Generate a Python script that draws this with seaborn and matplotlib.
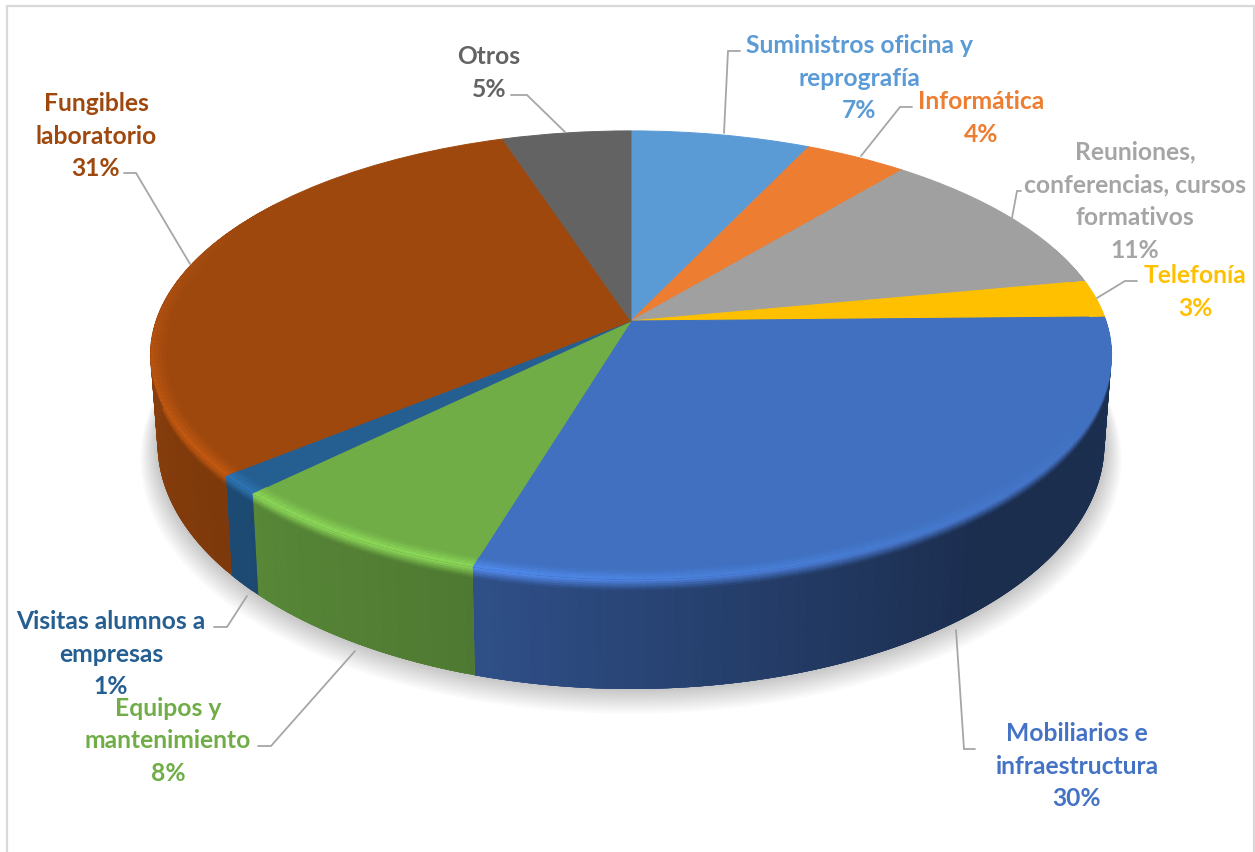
import numpy as np
import matplotlib
matplotlib.use("Agg")
import matplotlib.pyplot as plt
import matplotlib.transforms as mtransforms
from matplotlib.collections import PolyCollection
import seaborn as sns

# ---------- data ----------
categories = ["Suministros oficina y\nreprografía", "Informática",
              "Reuniones,\nconferencias, cursos\nformativos", "Telefonía",
              "Mobiliarios e\ninfraestructura", "Equipos y\nmantenimiento",
              "Visitas alumnos a\nempresas", "Fungibles\nlaboratorio", "Otros"]
shares = [7.0, 4.0, 11.0, 2.7, 29.9, 8.0, 1.4, 31.0, 5.0]
printed_pct = [7, 4, 11, 3, 30, 8, 1, 31, 5]
colors = ["#5B9BD5", "#ED7D31", "#A5A5A5", "#FFC000", "#4472C4",
          "#70AD47", "#255E91", "#9E480E", "#636363"]

sns.set_theme(style="white")
plt.rcParams["font.family"] = ["Lato", "DejaVu Sans"]
palette = sns.color_palette(colors)
top_colors = ["#5B9BD5", "#ED7D31", "#A0A0A0", "#FFC000", "#4070BF",
              "#70AD47", "#255E91", "#9E480E", "#636363"]

# ---------- perspective model of the disc (figure pixels) ----------
CX, CY, A, B, K = 631.0, 322.0, 475.0, 219.0, 0.152
CY2, A2, B2 = 407.0, 468.0, 240.0


def project(x, y, t=0.0):
    d = 1 + K * y
    X = CX + (A + (A2 - A) * t) * x / d
    Y = (CY + (CY2 - CY) * t) - (B + (B2 - B) * t) * y / d
    return X, Y


class Persp(mtransforms.Transform):
    input_dims = output_dims = 2

    def transform_non_affine(self, v):
        v = np.asarray(v, float)
        X, Y = project(v[:, 0], v[:, 1])
        return np.column_stack([X, Y])


def polar(theta, r=1.0, t=0.0):
    a = np.radians(theta)
    return project(r * np.sin(a), r * np.cos(a), t)


fig = plt.figure(figsize=(12.55, 8.53), dpi=100, facecolor="white")
ax = fig.add_axes([0, 0, 1, 1])

# ---------- top surface through the pie routine ----------
wedges, _ = ax.pie(shares, colors=top_colors, startangle=90, counterclock=False,
                   radius=1)
persp = Persp() + ax.transData
for w in wedges:
    w.set_transform(persp)
    w.set_zorder(3)
    w.set_edgecolor(w.get_facecolor())
    w.set_linewidth(0.7)
ax.set_aspect("auto")
ax.set_xlim(0, 1255)
ax.set_ylim(853, 0)
ax.axis("off")

edges = np.concatenate([[0], np.cumsum(shares)]) / np.sum(shares) * 360


def shade(th):
    return np.interp(th, [90, 140, 170, 197, 225, 270, 300],
                     [0.40, 0.40, 0.55, 0.70, 0.78, 0.87, 0.87])


def rim(th):
    return np.interp(th, [110, 170, 200, 240, 275, 300],
                     [1.0, 1.15, 1.27, 1.25, 1.10, 1.0])


def col(base, f):
    return tuple(np.clip(np.array(base) * f, 0, 1))


# ---------- soft shadow ----------
th_all = np.linspace(0, 360, 361)
for i in range(12):
    g = i / 11
    X, Y = polar(th_all, 1 + 0.035 * g, 1.0)
    ax.fill(X, Y + 13 * g, color="#000000", alpha=0.019, lw=0, zorder=1)

# ---------- side wall and bevel ----------
wall_polys, wall_cols, bevel_polys, bevel_cols = [], [], [], []
t_grid = [0, .02, .04, .06, .08, .10, 1.0]
r_grid = [0.968, 0.976, 0.984, 0.992, 1.0]
for i, base in enumerate(colors):
    lo, hi = max(edges[i], 70), min(edges[i + 1], 305)
    if hi <= lo:
        continue
    n = max(int(np.ceil(hi - lo)), 1)
    ths = np.linspace(lo, hi, n + 1)
    step = ths[1] - ths[0]
    rgb = matplotlib.colors.to_rgb(base)
    rgb_top = matplotlib.colors.to_rgb(top_colors[i])
    for a, b in zip(ths[:-1], ths[1:]):
        m = (a + b) / 2
        e = min(b + step, hi)      # overlap the next quad so no seams show
        s, f = float(shade(m)), float(rim(m))
        for j in range(len(t_grid) - 1):
            t0, t1 = t_grid[j], t_grid[j + 1]
            t_end = t_grid[min(j + 2, len(t_grid) - 1)]
            tm = min((t0 + t1) / 2 / 0.10, 1)
            wall_polys.append([polar(a, 1, t0), polar(e, 1, t0), polar(e, 1, t_end), polar(a, 1, t_end)])
            wall_cols.append(col(rgb, f + (s - f) * tm))
        for j in range(len(r_grid) - 1):
            r0, r1 = r_grid[j], r_grid[j + 1]
            tm = ((r0 + r1) / 2 - r_grid[0]) / (1 - r_grid[0])
            bevel_polys.append([polar(a, r0), polar(e, r0), polar(e, 1.0), polar(a, 1.0)])
            bevel_cols.append(col(rgb_top, 1 + (f - 1) * tm))

ax.add_collection(PolyCollection(wall_polys, facecolors=wall_cols, edgecolors="none",
                                 linewidths=0, zorder=2))
ax.add_collection(PolyCollection(bevel_polys, facecolors=bevel_cols, edgecolors="none",
                                 linewidths=0, zorder=4))

# ---------- labels ----------
label_pos = [(859, 78), (981, 118), (1135, 201), (1195, 292), (1077, 766),
             (168, 741), (111, 654), (96, 136), (489, 73)]
for name, pct, c, (x, y) in zip(categories, printed_pct, colors, label_pos):
    ax.text(x, y, f"{name}\n{pct}%", color=c, ha="center", va="center",
            fontsize=17.7, fontweight="bold", linespacing=1.52, zorder=6)

# ---------- leader lines ----------
leaders = [[(740, 52), (728, 52), (724, 134)],
           [(912, 108), (900, 108), (861, 157)],
           [(1021, 192), (1017, 192), (1012, 219)],
           [(1137, 282), (1125, 282), (1097, 299)],
           [(975, 750), (964, 750), (956, 631)],
           [(258, 747), (271, 747), (355, 652)],
           [(214, 628), (227, 628), (247, 597)],
           [(124, 174), (136, 174), (190, 265)],
           [(511, 96), (527, 96), (565, 133)]]
for pts in leaders:
    xs, ys = zip(*pts)
    ax.plot(xs, ys, color="#A6A6A6", lw=1.3, zorder=5, solid_joinstyle="miter")

# ---------- chart frame ----------
ax.plot([7, 7, 1254, 1254], [853, 7, 7, 853], color="#D9D9D9", lw=1.6, zorder=0,
        clip_on=False)

fig.savefig("out.png", dpi=100)
